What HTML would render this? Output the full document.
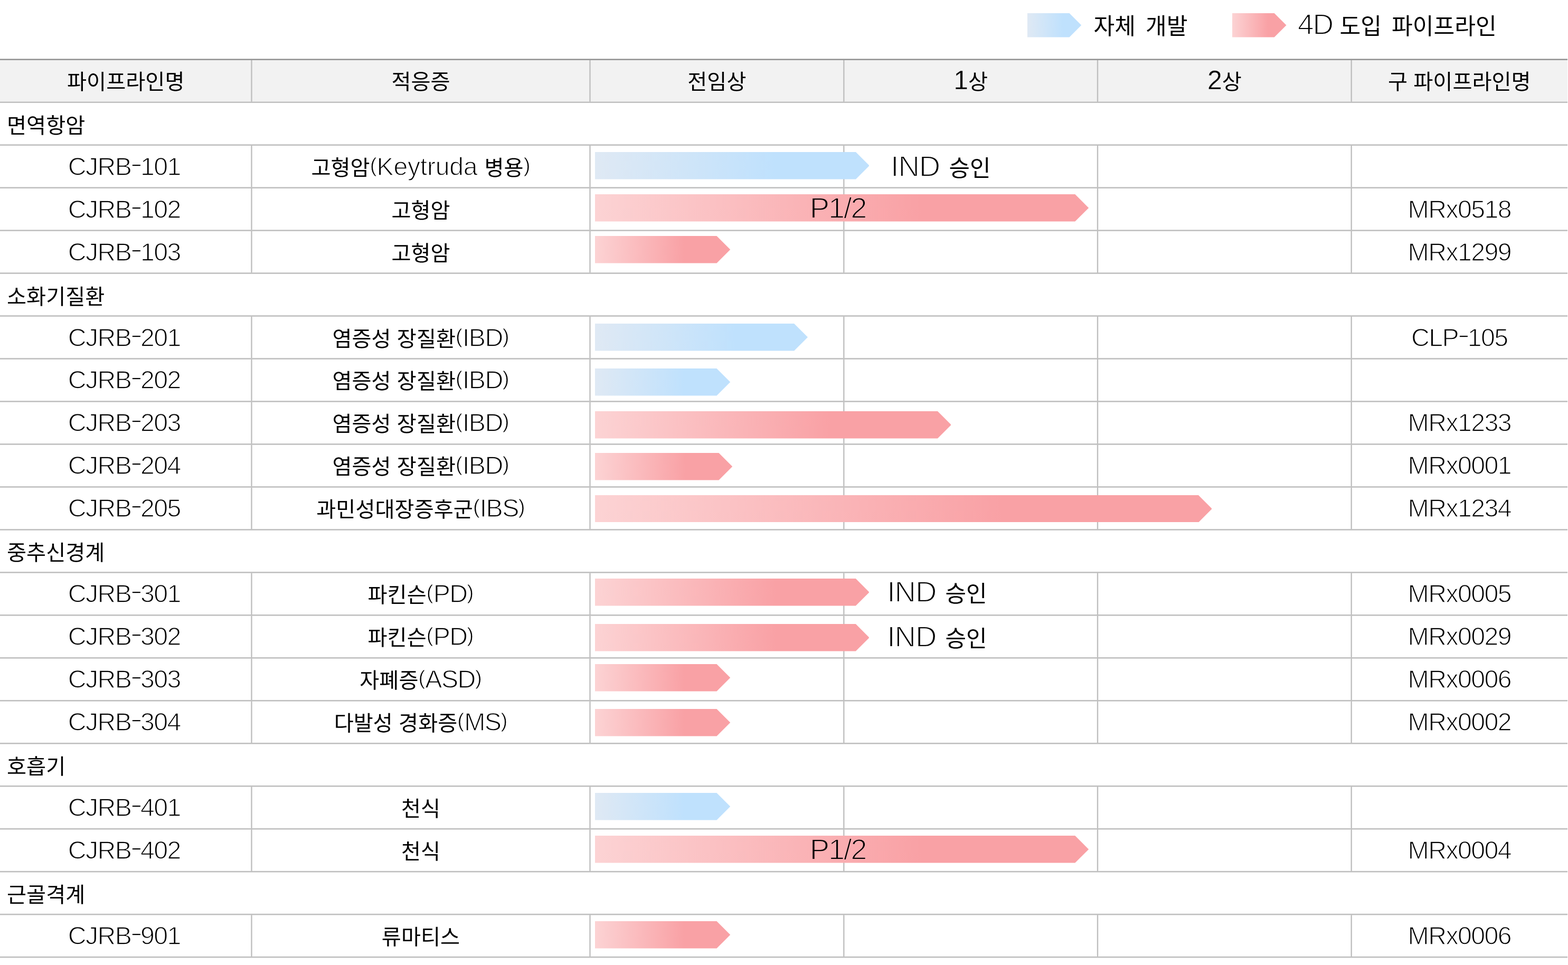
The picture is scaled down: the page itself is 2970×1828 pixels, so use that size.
<!DOCTYPE html>
<html lang="ko">
<head>
<meta charset="utf-8">
<title>CJRB 파이프라인</title>
<style>
*{box-sizing:border-box;margin:0;padding:0}
html,body{width:2970px;height:1828px;background:#fff}
body{position:relative;font-family:"Liberation Sans","Noto Sans CJK KR",sans-serif;color:#000;font-size:48.3px;letter-spacing:-1.6px;-webkit-text-stroke:1.4px #fff}
.k{font-family:"Liberation Sans","Noto Sans CJK KR",sans-serif;font-size:40.3px;letter-spacing:0;word-spacing:0;-webkit-text-stroke:0;color:#000}
.legend .k{font-size:43.2px;word-spacing:7px}
.lbl .k{font-size:42.9px}
.hl{position:absolute;z-index:1;left:0;width:2969px}
.vl{position:absolute;z-index:1;mix-blend-mode:darken}
.row{position:absolute;left:0;width:2969px;white-space:nowrap}
.c{position:absolute;top:-1px;height:100%;text-align:center}
#head .c{top:-2px}
.p{font-size:0.8em;line-height:0;vertical-align:0.166em;-webkit-text-stroke-width:0.9px;letter-spacing:0}
.h{display:inline-block;margin:0 1.6px;transform:translateY(-0.125em) scaleX(1.45)}
.grp{position:absolute;left:13px;top:0}
.arrow{position:absolute;z-index:2;display:block}
.lbl{position:absolute;z-index:3;white-space:nowrap;font-size:56.1px;letter-spacing:-1.2px;word-spacing:3px;line-height:60px;-webkit-text-stroke-width:1.8px}
#head{background:#f2f2f2;font-size:50px;letter-spacing:0;-webkit-text-stroke:0.4px #f2f2f2}
.onp{-webkit-text-stroke-color:#faaeb2;letter-spacing:-2.2px}
.legend{position:absolute;white-space:nowrap;font-size:55px;letter-spacing:-2px;line-height:60px;-webkit-text-stroke-width:1.8px}
</style>
</head>
<body>
<svg width="0" height="0" style="position:absolute">
<defs>
<linearGradient id="gb" x1="0" y1="0" x2="1" y2="0"><stop offset="0" stop-color="#dfe9f4"/><stop offset="0.66" stop-color="#bfe1fd"/><stop offset="1" stop-color="#bfe1fd"/></linearGradient>
<linearGradient id="gp" x1="0" y1="0" x2="1" y2="0"><stop offset="0" stop-color="#fcd3d4"/><stop offset="0.66" stop-color="#f9a1a5"/><stop offset="1" stop-color="#f9a1a5"/></linearGradient>
</defs>
</svg>
<!-- legend -->
<svg class="arrow" style="left:1945.9px;top:25.2px" width="102.3" height="45.6" viewBox="0 0 102.3 45.6"><polygon points="0,0 79.5,0 102.3,22.8 79.5,45.6 0,45.6" fill="url(#gb)"/></svg><div class="legend" style="left:2071.5px;top:16px"><span class="k">자체 개발</span></div>
<svg class="arrow" style="left:2334px;top:25.2px" width="102.5" height="45.6" viewBox="0 0 102.5 45.6"><polygon points="0,0 79.7,0 102.5,22.8 79.7,45.6 0,45.6" fill="url(#gp)"/></svg><div class="legend" style="left:2458px;top:16px">4D <span class="k">도입 파이프라인</span></div>
<!-- header -->
<div class="row" id="head" style="top:114px;height:80px;line-height:81px"><div class="c" style="left:0px;width:476.5px"><span class="k">파이프라인명</span></div><div class="c" style="left:476.5px;width:641px"><span class="k">적응증</span></div><div class="c" style="left:1117.5px;width:480.8px"><span class="k">전임상</span></div><div class="c" style="left:1598.3px;width:480.7px">1<span class="k">상</span></div><div class="c" style="left:2079px;width:480.7px">2<span class="k">상</span></div><div class="c" style="left:2559.7px;width:409.3px"><span class="k">구 파이프라인명</span></div></div>
<div class="row" style="top:194px;height:81px;line-height:82px"><div class="grp"><span class="k">면역항암</span></div></div>
<div class="row" style="top:275px;height:81px;line-height:82px"><div class="c" style="left:0px;width:470.5px">CJRB<span class="h">-</span>101</div><div class="c" style="left:476.5px;width:641px;letter-spacing:-0.3px"><span class="k">고형암</span><span class="p">(</span>Keytruda <span class="k">병용</span><span class="p">)</span></div></div>
<svg class="arrow" style="left:1126.5px;top:288px" width="519.8" height="51.6" viewBox="0 0 519.8 51.6"><polygon points="0,0 494,0 519.8,25.8 494,51.6 0,51.6" fill="url(#gb)"/></svg>
<div class="lbl" style="left:1687.1px;top:284.8px">IND <span class="k">승인</span></div>
<div class="row" style="top:356px;height:81px;line-height:82px"><div class="c" style="left:0px;width:470.5px">CJRB<span class="h">-</span>102</div><div class="c" style="left:476.5px;width:641px"><span class="k">고형암</span></div><div class="c" style="left:2559.7px;width:409.3px">MRx0518</div></div>
<svg class="arrow" style="left:1126.5px;top:368.1px" width="935.2" height="51.6" viewBox="0 0 935.2 51.6"><polygon points="0,0 909.4,0 935.2,25.8 909.4,51.6 0,51.6" fill="url(#gp)"/></svg>
<div class="lbl onp" style="left:1533.7px;top:363.5px">P1/2</div>
<div class="row" style="top:437px;height:81px;line-height:82px"><div class="c" style="left:0px;width:470.5px">CJRB<span class="h">-</span>103</div><div class="c" style="left:476.5px;width:641px"><span class="k">고형암</span></div><div class="c" style="left:2559.7px;width:409.3px">MRx1299</div></div>
<svg class="arrow" style="left:1126.5px;top:447.2px" width="256.3" height="51.6" viewBox="0 0 256.3 51.6"><polygon points="0,0 230.5,0 256.3,25.8 230.5,51.6 0,51.6" fill="url(#gp)"/></svg>
<div class="row" style="top:518px;height:81px;line-height:82px"><div class="grp"><span class="k">소화기질환</span></div></div>
<div class="row" style="top:599px;height:81px;line-height:82px"><div class="c" style="left:0px;width:470.5px">CJRB<span class="h">-</span>201</div><div class="c" style="left:476.5px;width:641px"><span class="k">염증성 장질환</span><span class="p">(</span>IBD<span class="p">)</span></div><div class="c" style="left:2559.7px;width:409.3px">CLP<span class="h">-</span>105</div></div>
<svg class="arrow" style="left:1126.5px;top:613.2px" width="403" height="51.6" viewBox="0 0 403 51.6"><polygon points="0,0 377.2,0 403,25.8 377.2,51.6 0,51.6" fill="url(#gb)"/></svg>
<div class="row" style="top:680px;height:80px;line-height:81px"><div class="c" style="left:0px;width:470.5px">CJRB<span class="h">-</span>202</div><div class="c" style="left:476.5px;width:641px"><span class="k">염증성 장질환</span><span class="p">(</span>IBD<span class="p">)</span></div></div>
<svg class="arrow" style="left:1126.5px;top:698px" width="256.3" height="51.6" viewBox="0 0 256.3 51.6"><polygon points="0,0 230.5,0 256.3,25.8 230.5,51.6 0,51.6" fill="url(#gb)"/></svg>
<div class="row" style="top:760px;height:81px;line-height:82px"><div class="c" style="left:0px;width:470.5px">CJRB<span class="h">-</span>203</div><div class="c" style="left:476.5px;width:641px"><span class="k">염증성 장질환</span><span class="p">(</span>IBD<span class="p">)</span></div><div class="c" style="left:2559.7px;width:409.3px">MRx1233</div></div>
<svg class="arrow" style="left:1126.5px;top:779.1px" width="674.8" height="51.6" viewBox="0 0 674.8 51.6"><polygon points="0,0 649,0 674.8,25.8 649,51.6 0,51.6" fill="url(#gp)"/></svg>
<div class="row" style="top:841px;height:81px;line-height:82px"><div class="c" style="left:0px;width:470.5px">CJRB<span class="h">-</span>204</div><div class="c" style="left:476.5px;width:641px"><span class="k">염증성 장질환</span><span class="p">(</span>IBD<span class="p">)</span></div><div class="c" style="left:2559.7px;width:409.3px">MRx0001</div></div>
<svg class="arrow" style="left:1126.5px;top:858.2px" width="260.3" height="51.6" viewBox="0 0 260.3 51.6"><polygon points="0,0 234.5,0 260.3,25.8 234.5,51.6 0,51.6" fill="url(#gp)"/></svg>
<div class="row" style="top:922px;height:81px;line-height:82px"><div class="c" style="left:0px;width:470.5px">CJRB<span class="h">-</span>205</div><div class="c" style="left:476.5px;width:641px"><span class="k">과민성대장증후군</span><span class="p">(</span>IBS<span class="p">)</span></div><div class="c" style="left:2559.7px;width:409.3px">MRx1234</div></div>
<svg class="arrow" style="left:1126.5px;top:937.6px" width="1168.9" height="51.6" viewBox="0 0 1168.9 51.6"><polygon points="0,0 1143.1,0 1168.9,25.8 1143.1,51.6 0,51.6" fill="url(#gp)"/></svg>
<div class="row" style="top:1003px;height:81px;line-height:82px"><div class="grp"><span class="k">중추신경계</span></div></div>
<div class="row" style="top:1084px;height:81px;line-height:82px"><div class="c" style="left:0px;width:470.5px">CJRB<span class="h">-</span>301</div><div class="c" style="left:476.5px;width:641px"><span class="k">파킨슨</span><span class="p">(</span>PD<span class="p">)</span></div><div class="c" style="left:2559.7px;width:409.3px">MRx0005</div></div>
<svg class="arrow" style="left:1126.5px;top:1096px" width="519.7" height="51.6" viewBox="0 0 519.7 51.6"><polygon points="0,0 493.9,0 519.7,25.8 493.9,51.6 0,51.6" fill="url(#gp)"/></svg>
<div class="lbl" style="left:1680.2px;top:1090.6px">IND <span class="k">승인</span></div>
<div class="row" style="top:1165px;height:81px;line-height:82px"><div class="c" style="left:0px;width:470.5px">CJRB<span class="h">-</span>302</div><div class="c" style="left:476.5px;width:641px"><span class="k">파킨슨</span><span class="p">(</span>PD<span class="p">)</span></div><div class="c" style="left:2559.7px;width:409.3px">MRx0029</div></div>
<svg class="arrow" style="left:1126.5px;top:1182.1px" width="519.7" height="51.6" viewBox="0 0 519.7 51.6"><polygon points="0,0 493.9,0 519.7,25.8 493.9,51.6 0,51.6" fill="url(#gp)"/></svg>
<div class="lbl" style="left:1680.2px;top:1176.4px">IND <span class="k">승인</span></div>
<div class="row" style="top:1246px;height:81px;line-height:82px"><div class="c" style="left:0px;width:470.5px">CJRB<span class="h">-</span>303</div><div class="c" style="left:476.5px;width:641px"><span class="k">자폐증</span><span class="p">(</span>ASD<span class="p">)</span></div><div class="c" style="left:2559.7px;width:409.3px">MRx0006</div></div>
<svg class="arrow" style="left:1126.5px;top:1258.2px" width="256.3" height="51.6" viewBox="0 0 256.3 51.6"><polygon points="0,0 230.5,0 256.3,25.8 230.5,51.6 0,51.6" fill="url(#gp)"/></svg>
<div class="row" style="top:1327px;height:81px;line-height:82px"><div class="c" style="left:0px;width:470.5px">CJRB<span class="h">-</span>304</div><div class="c" style="left:476.5px;width:641px"><span class="k">다발성 경화증</span><span class="p">(</span>MS<span class="p">)</span></div><div class="c" style="left:2559.7px;width:409.3px">MRx0002</div></div>
<svg class="arrow" style="left:1126.5px;top:1343.3px" width="256.3" height="51.6" viewBox="0 0 256.3 51.6"><polygon points="0,0 230.5,0 256.3,25.8 230.5,51.6 0,51.6" fill="url(#gp)"/></svg>
<div class="row" style="top:1408px;height:81px;line-height:82px"><div class="grp"><span class="k">호흡기</span></div></div>
<div class="row" style="top:1489px;height:81px;line-height:82px"><div class="c" style="left:0px;width:470.5px">CJRB<span class="h">-</span>401</div><div class="c" style="left:476.5px;width:641px"><span class="k">천식</span></div></div>
<svg class="arrow" style="left:1126.5px;top:1502px" width="256.3" height="51.6" viewBox="0 0 256.3 51.6"><polygon points="0,0 230.5,0 256.3,25.8 230.5,51.6 0,51.6" fill="url(#gb)"/></svg>
<div class="row" style="top:1570px;height:81px;line-height:82px"><div class="c" style="left:0px;width:470.5px">CJRB<span class="h">-</span>402</div><div class="c" style="left:476.5px;width:641px"><span class="k">천식</span></div><div class="c" style="left:2559.7px;width:409.3px">MRx0004</div></div>
<svg class="arrow" style="left:1126.5px;top:1583.1px" width="935.2" height="51.6" viewBox="0 0 935.2 51.6"><polygon points="0,0 909.4,0 935.2,25.8 909.4,51.6 0,51.6" fill="url(#gp)"/></svg>
<div class="lbl onp" style="left:1533.7px;top:1578.5px">P1/2</div>
<div class="row" style="top:1651px;height:81px;line-height:82px"><div class="grp"><span class="k">근골격계</span></div></div>
<div class="row" style="top:1732px;height:81px;line-height:82px"><div class="c" style="left:0px;width:470.5px">CJRB<span class="h">-</span>901</div><div class="c" style="left:476.5px;width:641px"><span class="k">류마티스</span></div><div class="c" style="left:2559.7px;width:409.3px">MRx0006</div></div>
<svg class="arrow" style="left:1126.5px;top:1745.3px" width="256.3" height="51.6" viewBox="0 0 256.3 51.6"><polygon points="0,0 230.5,0 256.3,25.8 230.5,51.6 0,51.6" fill="url(#gp)"/></svg>
<!-- grid lines -->
<div class="hl" style="top:111px;height:3px;background:linear-gradient(to bottom,#bfbfbf 0px 1px,#959595 1px 2px,#959595 2px 3px)"></div>
<div class="hl" style="top:192px;height:3px;background:linear-gradient(to bottom,#d9d9d9 0px 1px,#bfbfbf 1px 2px,#bfbfbf 2px 3px)"></div><div class="hl" style="top:273px;height:3px;background:linear-gradient(to bottom,#d7d7d7 0px 1px,#bfbfbf 1px 2px,#c1c1c1 2px 3px)"></div><div class="hl" style="top:354px;height:3px;background:linear-gradient(to bottom,#d5d5d5 0px 1px,#bfbfbf 1px 2px,#c3c3c3 2px 3px)"></div><div class="hl" style="top:435px;height:3px;background:linear-gradient(to bottom,#d3d3d3 0px 1px,#bfbfbf 1px 2px,#c5c5c5 2px 3px)"></div><div class="hl" style="top:516px;height:3px;background:linear-gradient(to bottom,#d1d1d1 0px 1px,#bfbfbf 1px 2px,#c7c7c7 2px 3px)"></div><div class="hl" style="top:597px;height:3px;background:linear-gradient(to bottom,#cfcfcf 0px 1px,#bfbfbf 1px 2px,#c9c9c9 2px 3px)"></div><div class="hl" style="top:678px;height:3px;background:linear-gradient(to bottom,#cdcdcd 0px 1px,#bfbfbf 1px 2px,#cbcbcb 2px 3px)"></div><div class="hl" style="top:759px;height:3px;background:linear-gradient(to bottom,#cbcbcb 0px 1px,#bfbfbf 1px 2px,#cccccc 2px 3px)"></div><div class="hl" style="top:840px;height:3px;background:linear-gradient(to bottom,#c9c9c9 0px 1px,#bfbfbf 1px 2px,#cecece 2px 3px)"></div><div class="hl" style="top:921px;height:3px;background:linear-gradient(to bottom,#c7c7c7 0px 1px,#bfbfbf 1px 2px,#d0d0d0 2px 3px)"></div><div class="hl" style="top:1002px;height:3px;background:linear-gradient(to bottom,#c5c5c5 0px 1px,#bfbfbf 1px 2px,#d2d2d2 2px 3px)"></div><div class="hl" style="top:1083px;height:3px;background:linear-gradient(to bottom,#c3c3c3 0px 1px,#bfbfbf 1px 2px,#d4d4d4 2px 3px)"></div><div class="hl" style="top:1164px;height:3px;background:linear-gradient(to bottom,#c2c2c2 0px 1px,#bfbfbf 1px 2px,#d6d6d6 2px 3px)"></div><div class="hl" style="top:1245px;height:3px;background:linear-gradient(to bottom,#c0c0c0 0px 1px,#bfbfbf 1px 2px,#d8d8d8 2px 3px)"></div><div class="hl" style="top:1325px;height:4px;background:linear-gradient(to bottom,#fefefe 0px 1px,#bfbfbf 1px 2px,#bfbfbf 2px 3px,#dadada 3px 4px)"></div><div class="hl" style="top:1406px;height:4px;background:linear-gradient(to bottom,#fcfcfc 0px 1px,#bfbfbf 1px 2px,#bfbfbf 2px 3px,#dcdcdc 3px 4px)"></div><div class="hl" style="top:1487px;height:4px;background:linear-gradient(to bottom,#fafafa 0px 1px,#bfbfbf 1px 2px,#bfbfbf 2px 3px,#dedede 3px 4px)"></div><div class="hl" style="top:1568px;height:4px;background:linear-gradient(to bottom,#f8f8f8 0px 1px,#bfbfbf 1px 2px,#bfbfbf 2px 3px,#e0e0e0 3px 4px)"></div><div class="hl" style="top:1649px;height:4px;background:linear-gradient(to bottom,#f6f6f6 0px 1px,#bfbfbf 1px 2px,#bfbfbf 2px 3px,#e2e2e2 3px 4px)"></div><div class="hl" style="top:1730px;height:4px;background:linear-gradient(to bottom,#f4f4f4 0px 1px,#bfbfbf 1px 2px,#bfbfbf 2px 3px,#e3e3e3 3px 4px)"></div><div class="hl" style="top:1811px;height:4px;background:linear-gradient(to bottom,#f2f2f2 0px 1px,#bfbfbf 1px 2px,#bfbfbf 2px 3px,#e5e5e5 3px 4px)"></div>
<div class="vl" style="left:475px;width:3px;top:113px;height:81px;background:linear-gradient(to right,#cecece 0px 1px,#bfbfbf 1px 2px,#cecece 2px 3px)"></div><div class="vl" style="left:1116px;width:3px;top:113px;height:81px;background:linear-gradient(to right,#cecece 0px 1px,#bfbfbf 1px 2px,#cecece 2px 3px)"></div><div class="vl" style="left:1597px;width:3px;top:113px;height:81px;background:linear-gradient(to right,#c7c7c7 0px 1px,#bfbfbf 1px 2px,#d6d6d6 2px 3px)"></div><div class="vl" style="left:2077px;width:4px;top:113px;height:81px;background:linear-gradient(to right,#e8e8e8 0px 1px,#bfbfbf 1px 2px,#bfbfbf 2px 3px,#e8e8e8 3px 4px)"></div><div class="vl" style="left:2558px;width:3px;top:113px;height:81px;background:linear-gradient(to right,#d8d8d8 0px 1px,#bfbfbf 1px 2px,#c4c4c4 2px 3px)"></div>
<div class="vl" style="left:475px;width:3px;top:275px;height:243px;background:linear-gradient(to right,#d2d2d2 0px 1px,#bfbfbf 1px 2px,#d2d2d2 2px 3px)"></div><div class="vl" style="left:1116px;width:3px;top:275px;height:243px;background:linear-gradient(to right,#d2d2d2 0px 1px,#bfbfbf 1px 2px,#d2d2d2 2px 3px)"></div><div class="vl" style="left:1597px;width:3px;top:275px;height:243px;background:linear-gradient(to right,#c9c9c9 0px 1px,#bfbfbf 1px 2px,#dcdcdc 2px 3px)"></div><div class="vl" style="left:2077px;width:4px;top:275px;height:243px;background:linear-gradient(to right,#f2f2f2 0px 1px,#bfbfbf 1px 2px,#bfbfbf 2px 3px,#f2f2f2 3px 4px)"></div><div class="vl" style="left:2558px;width:3px;top:275px;height:243px;background:linear-gradient(to right,#dfdfdf 0px 1px,#bfbfbf 1px 2px,#c5c5c5 2px 3px)"></div>
<div class="vl" style="left:475px;width:3px;top:599px;height:404px;background:linear-gradient(to right,#d2d2d2 0px 1px,#bfbfbf 1px 2px,#d2d2d2 2px 3px)"></div><div class="vl" style="left:1116px;width:3px;top:599px;height:404px;background:linear-gradient(to right,#d2d2d2 0px 1px,#bfbfbf 1px 2px,#d2d2d2 2px 3px)"></div><div class="vl" style="left:1597px;width:3px;top:599px;height:404px;background:linear-gradient(to right,#c9c9c9 0px 1px,#bfbfbf 1px 2px,#dcdcdc 2px 3px)"></div><div class="vl" style="left:2077px;width:4px;top:599px;height:404px;background:linear-gradient(to right,#f2f2f2 0px 1px,#bfbfbf 1px 2px,#bfbfbf 2px 3px,#f2f2f2 3px 4px)"></div><div class="vl" style="left:2558px;width:3px;top:599px;height:404px;background:linear-gradient(to right,#dfdfdf 0px 1px,#bfbfbf 1px 2px,#c5c5c5 2px 3px)"></div>
<div class="vl" style="left:475px;width:3px;top:1084px;height:324px;background:linear-gradient(to right,#d2d2d2 0px 1px,#bfbfbf 1px 2px,#d2d2d2 2px 3px)"></div><div class="vl" style="left:1116px;width:3px;top:1084px;height:324px;background:linear-gradient(to right,#d2d2d2 0px 1px,#bfbfbf 1px 2px,#d2d2d2 2px 3px)"></div><div class="vl" style="left:1597px;width:3px;top:1084px;height:324px;background:linear-gradient(to right,#c9c9c9 0px 1px,#bfbfbf 1px 2px,#dcdcdc 2px 3px)"></div><div class="vl" style="left:2077px;width:4px;top:1084px;height:324px;background:linear-gradient(to right,#f2f2f2 0px 1px,#bfbfbf 1px 2px,#bfbfbf 2px 3px,#f2f2f2 3px 4px)"></div><div class="vl" style="left:2558px;width:3px;top:1084px;height:324px;background:linear-gradient(to right,#dfdfdf 0px 1px,#bfbfbf 1px 2px,#c5c5c5 2px 3px)"></div>
<div class="vl" style="left:475px;width:3px;top:1489px;height:162px;background:linear-gradient(to right,#d2d2d2 0px 1px,#bfbfbf 1px 2px,#d2d2d2 2px 3px)"></div><div class="vl" style="left:1116px;width:3px;top:1489px;height:162px;background:linear-gradient(to right,#d2d2d2 0px 1px,#bfbfbf 1px 2px,#d2d2d2 2px 3px)"></div><div class="vl" style="left:1597px;width:3px;top:1489px;height:162px;background:linear-gradient(to right,#c9c9c9 0px 1px,#bfbfbf 1px 2px,#dcdcdc 2px 3px)"></div><div class="vl" style="left:2077px;width:4px;top:1489px;height:162px;background:linear-gradient(to right,#f2f2f2 0px 1px,#bfbfbf 1px 2px,#bfbfbf 2px 3px,#f2f2f2 3px 4px)"></div><div class="vl" style="left:2558px;width:3px;top:1489px;height:162px;background:linear-gradient(to right,#dfdfdf 0px 1px,#bfbfbf 1px 2px,#c5c5c5 2px 3px)"></div>
<div class="vl" style="left:475px;width:3px;top:1732px;height:81px;background:linear-gradient(to right,#d2d2d2 0px 1px,#bfbfbf 1px 2px,#d2d2d2 2px 3px)"></div><div class="vl" style="left:1116px;width:3px;top:1732px;height:81px;background:linear-gradient(to right,#d2d2d2 0px 1px,#bfbfbf 1px 2px,#d2d2d2 2px 3px)"></div><div class="vl" style="left:1597px;width:3px;top:1732px;height:81px;background:linear-gradient(to right,#c9c9c9 0px 1px,#bfbfbf 1px 2px,#dcdcdc 2px 3px)"></div><div class="vl" style="left:2077px;width:4px;top:1732px;height:81px;background:linear-gradient(to right,#f2f2f2 0px 1px,#bfbfbf 1px 2px,#bfbfbf 2px 3px,#f2f2f2 3px 4px)"></div><div class="vl" style="left:2558px;width:3px;top:1732px;height:81px;background:linear-gradient(to right,#dfdfdf 0px 1px,#bfbfbf 1px 2px,#c5c5c5 2px 3px)"></div>
</body>
</html>
